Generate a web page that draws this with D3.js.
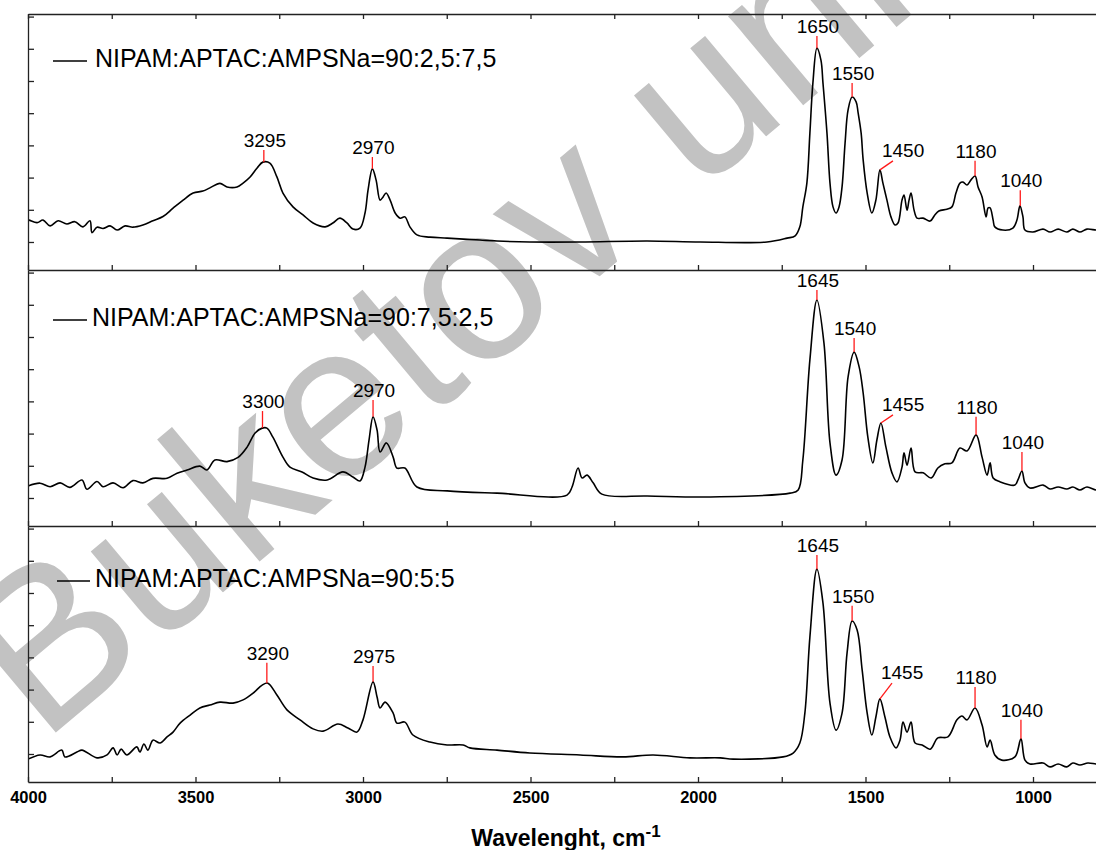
<!DOCTYPE html>
<html lang="en">
  <head>
    <meta charset="UTF-8" />
    <title>FTIR spectra</title>
    <script src="https://d3js.org/d3.v7.min.js"></script>
    <style>
      body {
        margin: 0;
        background: #fff;
      }
      svg {
        display: block;
        font-family: Arial, "Liberation Sans", sans-serif;
      }
      .axis path,
      .axis line {
        stroke: #222;
        stroke-width: 1.3px;
      }
      .axis text {
        font-size: 16.5px;
        font-weight: bold;
        fill: #000;
        font-family: Arial, "Liberation Sans", sans-serif;
      }
      .spectrum {
        fill: none;
        stroke: #000;
        stroke-width: 1.6px;
      }
      .marker {
        stroke: #ff1a1a;
        stroke-width: 1.3px;
      }
      .peak-label {
        font-size: 19px;
      }
      .legend {
        font-size: 25px;
      }
      .watermark {
        font-size: 220px;
        fill: #c2c2c2;
      }
    </style>
  </head>
  <body></body>
  <script>
    // wavenumber (cm-1), intensity (a.u.)
    const spec1 = [
      [4000, 1.68], [3997, 1.68], [3973, 1.6], [3955, 1.68], [3934, 1.5], [3910, 1.66], [3884, 1.56],
      [3860, 1.63], [3836, 1.47], [3815, 1.66], [3809, 1.29], [3794, 1.46], [3776, 1.42], [3755, 1.5],
      [3734, 1.37], [3710, 1.5], [3687, 1.46], [3657, 1.53], [3627, 1.66], [3597, 1.79], [3567, 2.05],
      [3537, 2.3], [3507, 2.52], [3478, 2.58], [3457, 2.68], [3427, 2.82], [3406, 2.71], [3376, 2.71],
      [3358, 2.83], [3337, 3.02], [3316, 3.3], [3299, 3.48], [3278, 3.45], [3257, 3.02], [3239, 2.52],
      [3209, 2.09], [3179, 1.84], [3149, 1.59], [3113, 1.47], [3090, 1.59], [3069, 1.74], [3048, 1.59],
      [3030, 1.4], [3009, 1.43], [2994, 1.9], [2985, 2.61], [2972, 3.27], [2961, 2.93], [2949, 2.3],
      [2940, 2.4], [2931, 2.52], [2919, 2.3], [2904, 1.9], [2889, 1.74], [2875, 1.78], [2860, 1.47],
      [2839, 1.22], [2800, 1.15], [2749, 1.12], [2651, 1.06], [2600, 1.03], [2502, 1.0], [2352, 1.0],
      [2152, 1.03], [1994, 1.0], [1794, 1.0], [1734, 1.12], [1710, 1.19], [1696, 1.47], [1687, 2.09],
      [1675, 2.83], [1666, 4.38], [1657, 5.94], [1645, 7.02], [1633, 6.65], [1627, 5.94], [1615, 4.38],
      [1606, 2.83], [1597, 2.09], [1588, 1.9], [1579, 2.09], [1570, 2.71], [1561, 4.07], [1552, 5.1],
      [1540, 5.5], [1528, 5.35], [1522, 5.01], [1513, 4.38], [1507, 3.55], [1495, 2.52], [1481, 1.9],
      [1469, 2.3], [1457, 3.24], [1448, 2.83], [1436, 2.3], [1424, 1.78], [1412, 1.53], [1403, 1.59],
      [1391, 2.3], [1385, 2.46], [1376, 1.99], [1370, 2.3], [1364, 2.52], [1355, 1.99], [1346, 1.74],
      [1328, 1.74], [1307, 1.65], [1293, 1.84], [1281, 1.96], [1257, 2.02], [1242, 2.09], [1230, 2.52],
      [1218, 2.83], [1209, 2.86], [1197, 2.77], [1185, 2.93], [1173, 3.05], [1164, 2.71], [1152, 2.4],
      [1140, 1.78], [1134, 2.06], [1128, 2.06], [1119, 1.68], [1114, 1.47], [1090, 1.37], [1060, 1.43],
      [1048, 1.68], [1039, 2.12], [1030, 1.78], [1024, 1.37], [1000, 1.31], [970, 1.4], [949, 1.31],
      [925, 1.4], [899, 1.31], [881, 1.4], [860, 1.31], [839, 1.4], [812, 1.37], [800, 1.37]
    ];

    const spec2 = [
      [4000, 1.37], [3964, 1.46], [3934, 1.35], [3904, 1.47], [3875, 1.33], [3839, 1.56], [3824, 1.27],
      [3794, 1.51], [3776, 1.35], [3746, 1.47], [3716, 1.32], [3687, 1.54], [3657, 1.47], [3627, 1.61],
      [3585, 1.61], [3555, 1.77], [3525, 1.87], [3487, 1.99], [3466, 1.87], [3442, 2.18], [3406, 2.13],
      [3373, 2.26], [3346, 2.58], [3322, 3.02], [3301, 3.17], [3287, 3.17], [3269, 2.89], [3239, 2.27],
      [3218, 1.96], [3182, 1.81], [3149, 1.62], [3107, 1.56], [3060, 1.81], [3030, 1.65], [3009, 1.53],
      [2994, 1.96], [2982, 2.8], [2970, 3.52], [2958, 3.11], [2949, 2.43], [2930, 2.71], [2910, 2.27],
      [2899, 1.93], [2875, 1.93], [2839, 1.34], [2749, 1.22], [2600, 1.15], [2391, 1.09], [2376, 1.34],
      [2358, 1.93], [2346, 1.62], [2331, 1.71], [2313, 1.47], [2287, 1.12], [2152, 1.06], [1994, 1.03],
      [1725, 1.15], [1701, 1.25], [1687, 2.18], [1666, 5.29], [1645, 7.15], [1624, 5.81], [1606, 2.71],
      [1588, 1.71], [1570, 2.18], [1552, 4.76], [1534, 5.53], [1519, 5.07], [1507, 4.26], [1493, 2.89],
      [1478, 2.09], [1466, 2.8], [1454, 3.33], [1439, 2.58], [1421, 1.78], [1406, 1.5], [1391, 1.96],
      [1385, 2.4], [1376, 2.02], [1364, 2.55], [1352, 1.81], [1328, 1.78], [1304, 1.62], [1284, 1.93],
      [1263, 2.06], [1242, 2.09], [1218, 2.55], [1197, 2.46], [1170, 2.96], [1152, 2.27], [1137, 1.71],
      [1128, 2.09], [1119, 1.62], [1098, 1.5], [1054, 1.4], [1045, 1.56], [1033, 1.84], [1024, 1.47],
      [1009, 1.31], [970, 1.4], [949, 1.28], [925, 1.34], [899, 1.28], [881, 1.34], [860, 1.25],
      [839, 1.34], [812, 1.25], [800, 1.25]
    ];

    const spec3 = [
      [4000, 0.84], [3964, 0.97], [3934, 0.91], [3899, 1.12], [3890, 0.91], [3854, 1.06], [3839, 1.12],
      [3794, 0.88], [3764, 0.97], [3746, 1.19], [3734, 0.97], [3722, 1.15], [3705, 0.97], [3675, 1.22],
      [3666, 1.06], [3654, 1.31], [3642, 1.12], [3627, 1.43], [3606, 1.34], [3585, 1.53], [3567, 1.68],
      [3546, 1.96], [3516, 2.21], [3487, 2.43], [3457, 2.52], [3427, 2.61], [3388, 2.58], [3358, 2.68],
      [3328, 2.89], [3301, 3.14], [3284, 3.2], [3257, 2.83], [3227, 2.37], [3188, 2.06], [3149, 1.78],
      [3119, 1.71], [3075, 1.93], [3045, 1.81], [3018, 1.68], [3000, 2.06], [2970, 3.24], [2958, 2.77],
      [2949, 2.43], [2934, 2.61], [2910, 2.27], [2899, 1.96], [2875, 1.99], [2851, 1.59], [2800, 1.37],
      [2749, 1.28], [2701, 1.28], [2681, 1.19], [2600, 1.12], [2502, 1.03], [2352, 0.97], [2224, 0.91],
      [2134, 0.97], [2024, 0.88], [1934, 0.88], [1895, 0.84], [1746, 0.91], [1716, 1.03], [1696, 1.34],
      [1681, 2.27], [1666, 4.63], [1645, 6.74], [1627, 5.69], [1606, 2.58], [1588, 1.74], [1570, 2.27],
      [1555, 4.14], [1540, 5.13], [1525, 4.85], [1510, 3.61], [1495, 2.27], [1481, 1.59], [1469, 2.15],
      [1457, 2.71], [1442, 2.15], [1427, 1.53], [1409, 1.19], [1397, 1.43], [1388, 1.99], [1376, 1.68],
      [1364, 1.99], [1352, 1.34], [1331, 1.28], [1307, 1.15], [1284, 1.5], [1254, 1.53], [1227, 2.06],
      [1212, 2.18], [1197, 2.06], [1173, 2.43], [1152, 1.9], [1137, 1.22], [1128, 1.43], [1114, 0.97],
      [1093, 0.81], [1054, 0.91], [1036, 1.47], [1024, 0.81], [1009, 0.69], [970, 0.72], [949, 0.6],
      [925, 0.69], [899, 0.6], [881, 0.72], [860, 0.66], [836, 0.72], [812, 0.69], [800, 0.69]
    ];

    // peak annotations: label, peak position, peak height, top of red marker
    const peaks1 = [
      { label: "3295", wn: 3296, peak: 3.48, tip: 3.86 },
      { label: "2970", wn: 2972, peak: 3.27, tip: 3.64 },
      { label: "1650", wn: 1645, peak: 7.02, tip: 7.4 },
      { label: "1550", wn: 1540, peak: 5.5, tip: 5.94 },
      { label: "1450", wn: 1457, peak: 3.24, tip: 3.52, tipWn: 1418 },
      { label: "1180", wn: 1173, peak: 3.05, tip: 3.52 },
      { label: "1040", wn: 1038, peak: 2.12, tip: 2.61 }
    ];
    const peaks2 = [
      { label: "3300", wn: 3300, peak: 3.18, tip: 3.7 },
      { label: "2970", wn: 2970, peak: 3.52, tip: 4.04 },
      { label: "1645", wn: 1645, peak: 7.15, tip: 7.46 },
      { label: "1540", wn: 1534, peak: 5.53, tip: 5.97 },
      { label: "1455", wn: 1454, peak: 3.33, tip: 3.58, tipWn: 1418 },
      { label: "1180", wn: 1170, peak: 2.96, tip: 3.52 },
      { label: "1040", wn: 1033, peak: 1.84, tip: 2.43 }
    ];
    const peaks3 = [
      { label: "3290", wn: 3287, peak: 3.2, tip: 3.83 },
      { label: "2975", wn: 2970, peak: 3.24, tip: 3.73 },
      { label: "1645", wn: 1645, peak: 6.74, tip: 7.18 },
      { label: "1550", wn: 1540, peak: 5.13, tip: 5.6 },
      { label: "1455", wn: 1457, peak: 2.71, tip: 3.2, tipWn: 1421 },
      { label: "1180", wn: 1173, peak: 2.43, tip: 3.08 },
      { label: "1040", wn: 1036, peak: 1.47, tip: 2.06 }
    ];

    const seriesNames = [
      "NIPAM:APTAC:AMPSNa=90:2,5:7,5",
      "NIPAM:APTAC:AMPSNa=90:7,5:2,5",
      "NIPAM:APTAC:AMPSNa=90:5:5"
    ];
    const xMajor = [4000, 3500, 3000, 2500, 2000, 1500, 1000];
    const xMinor = [3750, 3250, 2750, 2250, 1750, 1250];
    const yTicks = [1, 2, 3, 4, 5, 6, 7, 8];

    const width = 1096;
    const height = 850;
    const panelH = 256;
    const panelTop = [14, 270, 526];
    const left = 28;

    const x = d3.scaleLinear().domain([4000, 800]).range([left, left + 3200 * 0.335]);

    const svg = d3.select("body").append("svg").attr("width", width).attr("height", height);

    // watermark sits under everything
    svg
      .append("text")
      .attr("class", "watermark")
      .attr("transform", "translate(42, 744) rotate(-40)")
      .text("Buketov university");

    const panels = [
      { data: spec1, peaks: peaks1, name: seriesNames[0], legendDy: 47 },
      { data: spec2, peaks: peaks2, name: seriesNames[1], legendDy: 50 },
      { data: spec3, peaks: peaks3, name: seriesNames[2], legendDy: 55 }
    ];

    panels.forEach(function (p, i) {
      const top = panelTop[i];
      const y = d3.scaleLinear().domain([0.13, 0.13 + panelH / 32.2]).range([top + panelH, top]);
      const g = svg.append("g");

      svg
        .append("clipPath")
        .attr("id", "clip" + i)
        .append("rect")
        .attr("x", left)
        .attr("y", top)
        .attr("width", width)
        .attr("height", panelH);

      const line = d3
        .line()
        .x((d) => x(d[0]))
        .y((d) => y(d[1]))
        .curve(d3.curveCatmullRom.alpha(0.5));

      g.append("path")
        .attr("class", "spectrum")
        .attr("clip-path", "url(#clip" + i + ")")
        .attr("d", line(p.data));

      // frame and inward ticks
      const bottomAxis = d3
        .axisBottom(x)
        .tickValues(xMajor.concat(xMinor))
        .tickSize(-5)
        .tickSizeOuter(0)
        .tickPadding(9)
        .tickFormat((d) => (i === 2 && xMajor.includes(d) ? d : ""));
      g.append("g")
        .attr("class", "axis")
        .attr("transform", `translate(0, ${top + panelH})`)
        .call(bottomAxis);

      if (i === 0) {
        g.append("g")
          .attr("class", "axis")
          .attr("transform", `translate(0, ${top})`)
          .call(d3.axisTop(x).tickValues(xMajor.concat(xMinor)).tickSize(-5).tickSizeOuter(0).tickFormat(""));
      }

      g.append("g")
        .attr("class", "axis")
        .attr("transform", `translate(${left}, 0)`)
        .call(d3.axisLeft(y).tickValues(yTicks).tickSize(-6).tickSizeOuter(0).tickFormat(""));

      // legend
      const ly = top + p.legendDy;
      g.append("line")
        .attr("x1", i === 2 ? 57 : 53)
        .attr("x2", i === 2 ? 90 : 87)
        .attr("y1", ly)
        .attr("y2", ly)
        .attr("stroke", "#000")
        .attr("stroke-width", 1.3);
      g.append("text")
        .attr("class", "legend")
        .attr("x", i === 1 ? 92 : 95)
        .attr("y", ly + 6)
        .text(p.name);

      // peak markers
      p.peaks.forEach(function (pk) {
        if (pk.tipWn) {
          g.append("line")
            .attr("class", "marker")
            .attr("x1", x(pk.wn))
            .attr("y1", y(pk.peak))
            .attr("x2", x(pk.tipWn))
            .attr("y2", y(pk.tip));
          g.append("text")
            .attr("class", "peak-label")
            .attr("x", x(pk.tipWn) - 11)
            .attr("y", y(pk.tip) - 4)
            .text(pk.label);
        } else {
          g.append("line")
            .attr("class", "marker")
            .attr("x1", x(pk.wn))
            .attr("x2", x(pk.wn))
            .attr("y1", y(pk.peak))
            .attr("y2", y(pk.tip));
          g.append("text")
            .attr("class", "peak-label")
            .attr("text-anchor", "middle")
            .attr("x", x(pk.wn) + 1)
            .attr("y", y(pk.tip) - 3)
            .text(pk.label);
        }
      });
    });

    const title = svg
      .append("text")
      .attr("x", 566)
      .attr("y", 846)
      .attr("text-anchor", "middle")
      .style("font-weight", "bold")
      .style("font-size", "23px");
    title.append("tspan").text("Wavelenght, cm");
    title.append("tspan").attr("dy", -9).style("font-size", "17px").text("-1");
  </script>
</html>
